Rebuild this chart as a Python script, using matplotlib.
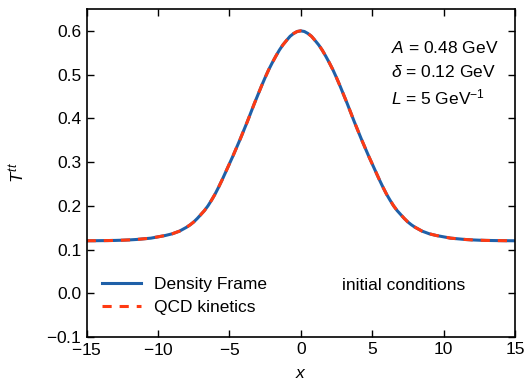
import numpy as np
import matplotlib
matplotlib.use("Agg")
import matplotlib.pyplot as plt

plt.rcParams['font.family'] = ['Liberation Sans', 'DejaVu Sans']
plt.rcParams['mathtext.fontset'] = 'custom'
plt.rcParams['mathtext.rm'] = 'Liberation Sans'
plt.rcParams['mathtext.it'] = 'Liberation Sans:italic'
plt.rcParams['mathtext.bf'] = 'Liberation Sans:bold'

# profile (right half; curve is symmetric about x = 0)
x_half = [0.0, 0.25, 0.5, 0.75, 1.0, 1.25, 1.5, 1.75, 2.0, 2.25, 2.5, 2.75,
          3.0, 3.25, 3.5, 3.75, 4.0, 4.25, 4.5, 4.75, 5.0, 5.25, 5.5, 5.75,
          6.0, 6.25, 6.5, 6.75, 7.0, 7.25, 7.5, 7.75, 8.0, 8.5, 9.0, 9.5,
          10.0, 10.5, 11.0, 11.5, 12.0, 12.5, 13.0, 13.5, 14.0, 14.5, 15.0]
t_half = [0.600, 0.5985, 0.594, 0.5875, 0.578, 0.568, 0.556, 0.542, 0.527,
          0.511, 0.493, 0.474, 0.454, 0.434, 0.413, 0.392, 0.372, 0.352,
          0.333, 0.314, 0.296, 0.278, 0.260, 0.243, 0.227, 0.213, 0.200,
          0.189, 0.180, 0.171, 0.163, 0.1565, 0.151, 0.142, 0.136, 0.132,
          0.129, 0.126, 0.1245, 0.123, 0.122, 0.1213, 0.1208, 0.1205,
          0.1203, 0.1201, 0.1200]

x = np.concatenate([-np.array(x_half[:0:-1]), np.array(x_half)])
t_density = np.concatenate([np.array(t_half[:0:-1]), np.array(t_half)])
t_qcd = t_density.copy()

fig = plt.figure(figsize=(5.27, 3.85), dpi=100)
ax = fig.add_axes([0.1645, 0.1247, 0.8125, 0.852])

ax.plot(x, t_density, color='#1f60a8', lw=2.2, label='Density Frame')
ax.plot(x, t_qcd, color='#ff3a12', lw=2.2, ls=(0, (3, 2.6)), label='QCD kinetics')

ax.set_xlim(-15, 15)
ax.set_ylim(-0.1, 0.65)
ax.set_xticks([-15, -10, -5, 0, 5, 10, 15])
ax.set_xticklabels(['$-15$', '$-10$', '$-5$', '0', '5', '10', '15'])
ax.set_yticks([-0.1, 0.0, 0.1, 0.2, 0.3, 0.4, 0.5, 0.6])
ax.set_yticklabels(['$-0.1$', '0.0', '0.1', '0.2', '0.3', '0.4', '0.5', '0.6'])
ax.tick_params(direction='in', top=True, right=True, labelsize=12.5, length=5, width=1)
for s in ax.spines.values():
    s.set_linewidth(1.2)

ax.set_xlabel('$x$', fontsize=12.5, labelpad=6)
ax.set_ylabel('$T^{tt}$', fontsize=12.5, labelpad=14)

ax.text(6.3, 0.560, '$A$ = 0.48 GeV', fontsize=12.5, va='center')
ax.text(6.3, 0.505, '$\\delta$ = 0.12 GeV', fontsize=12.5, va='center')
ax.text(6.3, 0.448, '$L$ = 5 GeV$^{-1}$', fontsize=12.5, va='center')
ax.text(2.9, 0.017, 'initial conditions', fontsize=12.5, va='center')

ax.legend(loc='lower left', frameon=False, fontsize=12.5, handlelength=2.2,
          bbox_to_anchor=(0.0, 0.02), labelspacing=0.45)

fig.savefig('out.png', dpi=100)
